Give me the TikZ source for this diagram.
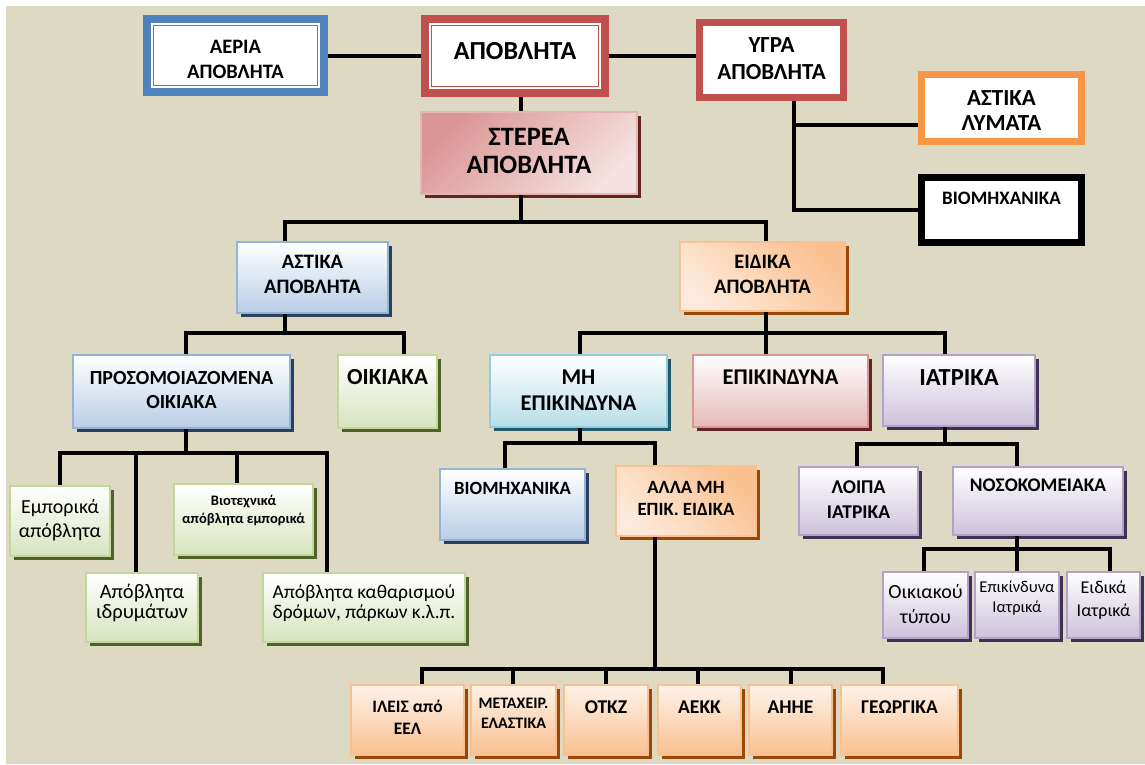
\documentclass[tikz,border=0pt]{standalone}
\usepackage{fontspec}
\setmainfont{Carlito}
\usetikzlibrary{fit,shadows}
\definecolor{bgc}{HTML}{DDD9C3}
\definecolor{aerc}{HTML}{4F81BD}
\definecolor{apoc}{HTML}{C0504D}
\definecolor{lymc}{HTML}{F79646}
\definecolor{bluef}{HTML}{B9CDE5}\definecolor{blueb}{HTML}{95B3D7}\definecolor{blues}{HTML}{2B3F5E}
\definecolor{greenf}{HTML}{D7E4BD}\definecolor{greenb}{HTML}{C3D69B}\definecolor{greens}{HTML}{4F6228}
\definecolor{cyanf}{HTML}{B7DEE8}\definecolor{cyanb}{HTML}{93CDDD}\definecolor{cyans}{HTML}{215968}
\definecolor{redf}{HTML}{E6B9B8}\definecolor{redb}{HTML}{D99694}\definecolor{reds}{HTML}{632523}
\definecolor{purf}{HTML}{CCC1DA}\definecolor{purb}{HTML}{B3A2C7}\definecolor{purs}{HTML}{403152}
\definecolor{oraf}{HTML}{FAC090}\definecolor{orab}{HTML}{FAC090}\definecolor{oras}{HTML}{984807}
\definecolor{oral}{HTML}{FDEADA}
\definecolor{pinkd}{HTML}{DA9694}\definecolor{pinkl}{HTML}{F5E1E0}
\tikzset{
  conn/.style={line width=4pt, black},
  topbox/.style={draw=#1, line width=8pt, fill=white, inner sep=0pt},
  thinframe/.style={draw=#1, line width=1.8pt},
  gbox/.style={draw=#1b, line width=1.5pt, top color=white, bottom color=#1f, inner sep=0pt,
    general shadow={fill=#1s, shadow xshift=4pt, shadow yshift=-4pt}},
  obox/.style={draw=orab, line width=1.5pt, left color=oral, right color=oraf, shading angle=135, inner sep=0pt,
    general shadow={fill=oras, shadow xshift=4pt, shadow yshift=-4pt}},
  obbox/.style={draw=orab, line width=1.5pt, top color=oral!60!white, bottom color=oraf, inner sep=0pt,
    general shadow={fill=oras, shadow xshift=4pt, shadow yshift=-4pt}},
  sbox/.style={draw=pinkd!70!white, line width=1.5pt, left color=pinkd, right color=pinkl, shading angle=45, inner sep=0pt,
    general shadow={fill=reds, shadow xshift=4pt, shadow yshift=-4pt}},
  txt/.style={align=center, inner sep=0pt, text=black},
  fb/.style 2 args={font={\fontsize{#1}{#2}\selectfont\bfseries}},
  fr/.style 2 args={font={\fontsize{#1}{#2}\selectfont}},
}
\begin{document}
\begin{tikzpicture}[x=1pt,y=-1pt]
\useasboundingbox (0,0) rectangle (1145,764);
\fill[bgc] (6,6) rectangle (1145,764);
% helper coordinates
\coordinate (yx) at (794,0);
\coordinate (yb) at (794,125);
\coordinate (sx) at (521,0);
\coordinate (ax) at (285,0);
\coordinate (ex) at (766,0);
\coordinate (j1) at (0,222);
\coordinate (j2) at (0,333);
\coordinate (px) at (186,0);
\coordinate (ox) at (404,0);
\coordinate (mx) at (580,0);
\coordinate (ix) at (945,0);
\coordinate (j3) at (0,453);
\coordinate (ex1) at (60,0);
\coordinate (ex2) at (136,0);
\coordinate (ex3) at (237,0);
\coordinate (ex4) at (327,0);
\coordinate (j4) at (0,443);
\coordinate (vx) at (505,0);
\coordinate (lx) at (655,0);
\coordinate (j5) at (0,669);
\coordinate (b1) at (422,0);
\coordinate (b2) at (513,0);
\coordinate (b3) at (606,0);
\coordinate (b4) at (698,0);
\coordinate (b5) at (791,0);
\coordinate (b6) at (883,0);
\coordinate (j6) at (0,444);
\coordinate (lpx) at (857,0);
\coordinate (nx) at (1017,0);
\coordinate (j7) at (0,549);
\coordinate (n1) at (924,0);
\coordinate (n3) at (1110,0);

% top row
\node[topbox=aerc, fit={(147,19)(324,92)}] (aer) {};
\draw[thinframe=aerc] ([shift={(10.5,10.5)}]aer.north west) rectangle ([shift={(-10.5,-10.5)}]aer.south east);
\node[txt, fb={20.5}{25}] (aer-t) at (235.5,59) {ΑΕΡΙΑ\\ΑΠΟΒΛΗΤΑ};
\node[topbox=apoc, fit={(425,19)(605,93)}] (apo) {};
\draw[thinframe=apoc] ([shift={(10.5,10.5)}]apo.north west) rectangle ([shift={(-10.5,-10.5)}]apo.south east);
\node[txt, fb={26}{28}] (apo-t) at (515,51) {ΑΠΟΒΛΗΤΑ};
\node[topbox=apoc, line width=7pt, fit={(699.5,22.5)(843.5,97.5)}] (ygra) {};
\node[txt, fb={23}{27}] (ygra-t) at (771.5,58.5) {ΥΓΡΑ\\ΑΠΟΒΛΗΤΑ};
\node[topbox=lymc, line width=7pt, fit={(921.5,74.5)(1081.5,141.5)}] (lym) {};
\node[txt, fb={23}{25}] (lym-t) at (1001.5,110.5) {ΑΣΤΙΚΑ\\ΛΥΜΑΤΑ};
\node[topbox=black, line width=7pt, fit={(921.5,177.5)(1081.5,242.5)}] (biomR) {};
\node[txt, fb={19}{20}] (biomR-t) at (1001.5,198) {ΒΙΟΜΗΧΑΝΙΚΑ};

% level 1-2
\node[sbox, fit={(421,112)(637,194)}] (sterea) {};
\node[txt, fb={26.5}{28}] (sterea-t) at (529,151) {ΣΤΕΡΕΑ\\ΑΠΟΒΛΗΤΑ};
\node[gbox=blue, fit={(237,242)(388,313)}] (astika) {};
\node[txt, fb={20.5}{25}] (astika-t) at (312.5,274.5) {ΑΣΤΙΚΑ\\ΑΠΟΒΛΗΤΑ};
\node[obox, fit={(680,242)(845,311)}] (eidika) {};
\node[txt, fb={20.5}{25}] (eidika-t) at (762.5,274.5) {ΕΙΔΙΚΑ\\ΑΠΟΒΛΗΤΑ};

% level 3
\node[gbox=blue, fit={(73,355)(290,428)}] (prosom) {};
\node[txt, fb={20}{24}] (prosom-t) at (181.5,390) {ΠΡΟΣΟΜΟΙΑΖΟΜΕΝΑ\\ΟΙΚΙΑΚΑ};
\node[gbox=green, fit={(338,355)(437,428)}] (oikiaka) {};
\node[txt, fb={23}{24}] (oikiaka-t) at (387.5,377) {ΟΙΚΙΑΚΑ};
\node[gbox=cyan, fit={(490,355)(667,427)}] (miepik) {};
\node[txt, fb={22.5}{26}] (miepik-t) at (578.5,390) {ΜΗ\\ΕΠΙΚΙΝΔΥΝΑ};
\node[gbox=red, fit={(693,355)(868,427)}] (epik) {};
\node[txt, fb={22.5}{24}] (epik-t) at (780.5,377) {ΕΠΙΚΙΝΔΥΝΑ};
\node[gbox=pur, fit={(883,355)(1035,426)}] (iatrika) {};
\node[txt, fb={24.5}{26}] (iatrika-t) at (959,378) {ΙΑΤΡΙΚΑ};

% level 4 left
\node[gbox=green, fit={(10,486)(110,556)}] (empor) {};
\node[txt, fr={20}{24}] (empor-t) at (60,520) {Εμπορικά\\απόβλητα};
\node[gbox=green, fit={(174,484)(313,555)}] (viotex) {};
\node[txt, fb={14.5}{18}] (viotex-t) at (243.5,510) {Βιοτεχνικά\\απόβλητα εμπορικά};
\node[gbox=green, fit={(86,573)(198,642)}] (idrym) {};
\node[txt, fr={20.5}{20}] (idrym-t) at (142,603) {Απόβλητα\\ιδρυμάτων};
\node[gbox=green, fit={(263,573)(465,642)}] (kathar) {};
\node[txt, fr={19.5}{20}] (kathar-t) at (364,603) {Απόβλητα καθαρισμού\\δρόμων, πάρκων κ.λ.π.};

% level 4 middle
\node[gbox=blue, fit={(440,469)(585,540)}] (viomid) {};
\node[txt, fb={18.7}{20}] (viomid-t) at (512.5,488) {ΒΙΟΜΗΧΑΝΙΚΑ};
\node[obox, fit={(616,466)(756,536)}] (alla) {};
\node[txt, fb={18.7}{22}] (alla-t) at (686,498) {ΑΛΛΑ ΜΗ\\ΕΠΙΚ. ΕΙΔΙΚΑ};

% level 4 right
\node[gbox=pur, fit={(799,467)(918,535)}] (loipa) {};
\node[txt, fb={19.5}{25}] (loipa-t) at (858.5,499.5) {ΛΟΙΠΑ\\ΙΑΤΡΙΚΑ};
\node[gbox=pur, fit={(953,467)(1123,535)}] (nosok) {};
\node[txt, fb={19.3}{20}] (nosok-t) at (1038,485) {ΝΟΣΟΚΟΜΕΙΑΚΑ};
\node[gbox=pur, fit={(883,572)(968,638)}] (oikt) {};
\node[txt, fr={20}{25}] (oikt-t) at (925.5,604) {Οικιακού\\τύπου};
\node[gbox=pur, fit={(975,572)(1059,638)}] (epiki) {};
\node[txt, fr={16.5}{20}] (epiki-t) at (1017,598) {Επικίνδυνα\\Ιατρικά};
\node[gbox=pur, fit={(1067,572)(1140,638)}] (eidiat) {};
\node[txt, fr={18}{23}] (eidiat-t) at (1103.5,600) {Ειδικά\\Ιατρικά};

% bottom row
\node[obbox, fit={(351,685)(464,755)}] (ileis) {};
\node[txt, fb={17.5}{22}] (ileis-t) at (407.5,717) {ΙΛΕΙΣ από\\ΕΕΛ};
\node[obbox, fit={(471,685)(556,755)}] (metax) {};
\node[txt, fb={16}{20}] (metax-t) at (513.5,713) {ΜΕΤΑΧΕΙΡ.\\ΕΛΑΣΤΙΚΑ};
\node[obbox, fit={(564,685)(648,755)}] (otkz) {};
\node[txt, fb={19.5}{20}] (otkz-t) at (606,707) {ΟΤΚΖ};
\node[obbox, fit={(658,685)(741,755)}] (aekk) {};
\node[txt, fb={19.5}{20}] (aekk-t) at (699.5,707) {ΑΕΚΚ};
\node[obbox, fit={(749,685)(832,755)}] (ahhe) {};
\node[txt, fb={19.5}{20}] (ahhe-t) at (790.5,707) {ΑΗΗΕ};
\node[obbox, fit={(841,685)(958,755)}] (georg) {};
\node[txt, fb={19.5}{20}] (georg-t) at (899.5,707) {ΓΕΩΡΓΙΚΑ};

% connectors
\draw[conn] (aer.east) -- (aer.east -| apo.west);
\draw[conn] (apo.east) -- (apo.east -| ygra.west);
\draw[conn] (ygra.south -| yx) |- (biomR.west);
\draw[conn] (yb) -- (yb -| lym.west);
\draw[conn] (apo.south -| sx) -- (sterea.north -| sx);
\draw[conn] (sterea.south -| sx) -- (sx |- j1);
\draw[conn] (astika.north -| ax) -- (ax |- j1) -- (ex |- j1) -- (eidika.north -| ex);
\draw[conn] (astika.south -| ax) -- (ax |- j2);
\draw[conn] (prosom.north -| px) -- (px |- j2) -- (ox |- j2) -- (oikiaka.north -| ox);
\draw[conn] (eidika.south -| ex) -- (epik.north -| ex);
\draw[conn] (miepik.north -| mx) -- (mx |- j2) -- (ix |- j2) -- (iatrika.north -| ix);
\draw[conn] (prosom.south -| px) -- (px |- j3);
\draw[conn] (empor.north -| ex1) -- (ex1 |- j3) -- (ex4 |- j3) -- (kathar.north -| ex4);
\draw[conn] (ex2 |- j3) -- (idrym.north -| ex2);
\draw[conn] (ex3 |- j3) -- (viotex.north -| ex3);
\draw[conn] (miepik.south -| mx) -- (mx |- j4);
\draw[conn] (viomid.north -| vx) -- (vx |- j4) -- (lx |- j4) -- (alla.north -| lx);
\draw[conn] (alla.south -| lx) -- (lx |- j5);
\draw[conn] (ileis.north -| b1) -- (b1 |- j5) -- (b6 |- j5) -- (georg.north -| b6);
\draw[conn] (b2 |- j5) -- (metax.north -| b2);
\draw[conn] (b3 |- j5) -- (otkz.north -| b3);
\draw[conn] (b4 |- j5) -- (aekk.north -| b4);
\draw[conn] (b5 |- j5) -- (ahhe.north -| b5);
\draw[conn] (iatrika.south -| ix) -- (ix |- j6);
\draw[conn] (loipa.north -| lpx) -- (lpx |- j6) -- (nx |- j6) -- (nosok.north -| nx);
\draw[conn] (nosok.south -| nx) -- (nx |- j7);
\draw[conn] (oikt.north -| n1) -- (n1 |- j7) -- (n3 |- j7) -- (eidiat.north -| n3);
\draw[conn] (nx |- j7) -- (epiki.north -| nx);
\end{tikzpicture}
\end{document}
